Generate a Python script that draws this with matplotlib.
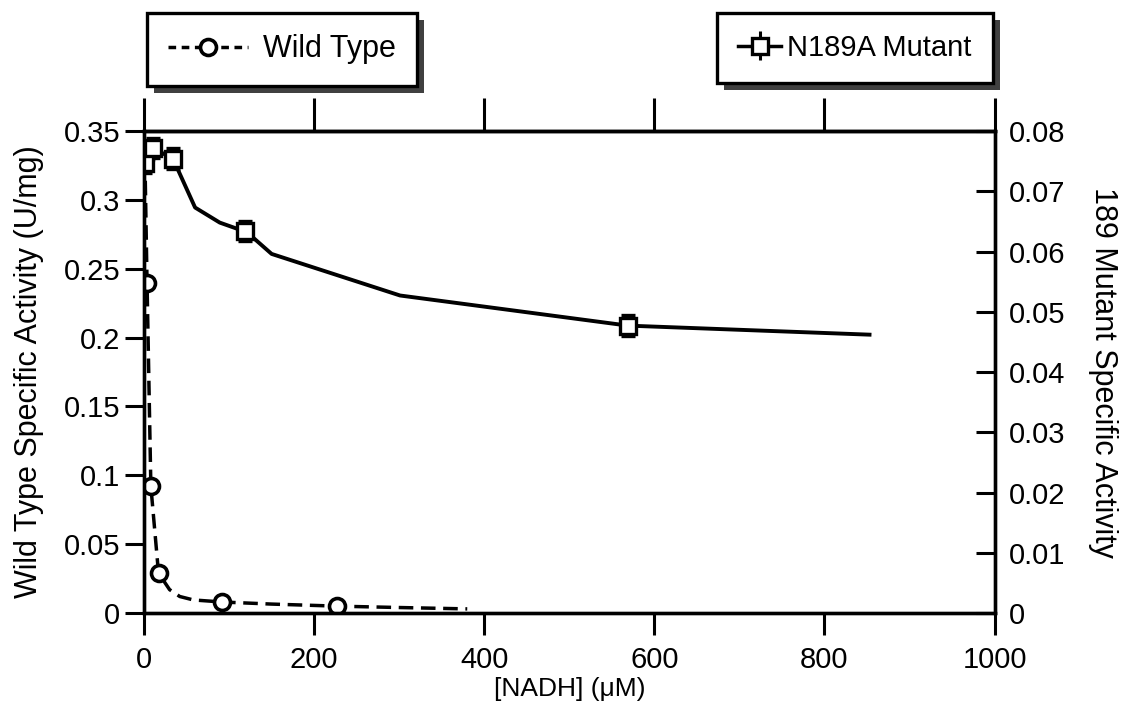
import numpy as np
import matplotlib.pyplot as plt
import matplotlib.patheffects as pe

plt.rcParams['font.family'] = ['Liberation Sans', 'DejaVu Sans']

# ── Data ──────────────────────────────────────────────────
# Wild type (left axis, U/mg)
wt_x = [1, 3.5, 8, 17, 92, 227]
wt_y = [0.33, 0.240, 0.092, 0.029, 0.008, 0.005]
wt_fit_x = [1, 3.5, 8, 17, 30, 42, 58, 92, 150, 227, 300, 380]
wt_fit_y = [0.33, 0.240, 0.092, 0.029, 0.017, 0.012, 0.0095, 0.008, 0.0065, 0.005, 0.004, 0.003]

# N189A mutant (right axis)
mut_x = [1.5, 10, 34, 119, 569]
mut_y = [0.0747, 0.0772, 0.0754, 0.0634, 0.0477]
mut_err = [0.0017, 0.0017, 0.0017, 0.0017, 0.0017]
mut_fit_x = [1.5, 10, 34, 60, 89, 121, 150, 301, 569, 853]
mut_fit_y = [0.0747, 0.0772, 0.0754, 0.0673, 0.0648, 0.0632, 0.0596, 0.0527, 0.0477, 0.0462]

x_ticks = [0, 200, 400, 600, 800, 1000]
left_ticks = [0, 0.05, 0.1, 0.15, 0.2, 0.25, 0.3, 0.35]
left_labels = ['0', '0.05', '0.1', '0.15', '0.2', '0.25', '0.3', '0.35']
right_ticks = [0, 0.01, 0.02, 0.03, 0.04, 0.05, 0.06, 0.07, 0.08]
right_labels = ['0', '0.01', '0.02', '0.03', '0.04', '0.05', '0.06', '0.07', '0.08']

FS = 21
LW = 2.5

# ── Figure ────────────────────────────────────────────────
fig = plt.figure(figsize=(11.37, 7.12), dpi=100)
ax = fig.add_axes([0.1267, 0.139, 0.748, 0.677])
ax2 = ax.twinx()

# wild type: dashed fit + open circles
ax.plot(wt_fit_x, wt_fit_y, color='black', lw=LW, ls=(0, (4.2, 2.2)))
ax.plot(wt_x, wt_y, ls='none', marker='o', ms=11.5, mfc='white', mec='black', mew=2.6)
wt_handle, = ax.plot([], [], color='black', lw=LW, ls=(0, (2.2, 1.6)),
                     marker='o', ms=11.5, mfc='white', mec='black', mew=2.6)

# mutant: solid fit + open squares with error bars
ax2.plot(mut_fit_x, mut_fit_y, color='black', lw=2.8)
ax2.errorbar(mut_x, mut_y, yerr=mut_err, ls='none', marker='s', ms=11.5,
             mfc='white', mec='black', mew=2.4, ecolor='black', elinewidth=2.2,
             capsize=5, capthick=2.2)
mut_handle = ax2.errorbar([], [], yerr=[], color='black', lw=LW, marker='s', ms=11.5,
                          mfc='white', mec='black', mew=2.4, ecolor='black',
                          elinewidth=2.2, capsize=5, capthick=2.2)

# ── Axes styling ──────────────────────────────────────────
ax.set_xlim(0, 1000)
ax.set_ylim(0, 0.35)
ax2.set_ylim(0, 0.08)

ax.set_xticks(x_ticks)
ax.set_xticklabels([str(t) for t in x_ticks], fontsize=FS)
ax.set_yticks(left_ticks)
ax.set_yticklabels(left_labels, fontsize=FS)
ax2.set_yticks(right_ticks)
ax2.set_yticklabels(right_labels, fontsize=FS)

ax.tick_params(axis='x', direction='out', length=16, width=2.2, pad=8)
ax.tick_params(axis='y', direction='out', length=14, width=2.2, pad=3)
ax2.tick_params(axis='y', direction='in', length=14, width=2.2, pad=10)

top = ax.secondary_xaxis('top')
top.set_xticks(x_ticks)
top.set_xticklabels([])
top.tick_params(direction='out', length=24, width=2.2)

for a in (ax, ax2):
    for s in a.spines.values():
        s.set_linewidth(2.4)
top.spines['top'].set_linewidth(2.4)

ax.set_xlabel('[NADH] (\u03bcM)', fontsize=19, labelpad=2)
ax.set_ylabel('Wild Type Specific Activity (U/mg)', fontsize=22, labelpad=14)
ax2.set_ylabel('189 Mutant Specific Activity', fontsize=22, rotation=270, labelpad=38)

# ── Legends: two separate shadowed boxes above the plot ───
shadow = [pe.SimplePatchShadow(offset=(5, -5), shadow_rgbFace='0.25', alpha=1),
          pe.Normal()]

leg1 = fig.legend([wt_handle], ['Wild Type'], loc='upper left',
                  bbox_to_anchor=(0.129, 0.982), borderaxespad=0, fontsize=22,
                  fancybox=False, handlelength=2.6, borderpad=0.7, handletextpad=0.5)
leg2 = fig.legend([mut_handle], ['N189A Mutant'], loc='upper right',
                  bbox_to_anchor=(0.873, 0.982), borderaxespad=0, fontsize=21,
                  fancybox=False, handlelength=1.5, borderpad=0.72, handletextpad=0.2)
for lg in (leg1, leg2):
    fr = lg.get_frame()
    fr.set_edgecolor('black')
    fr.set_linewidth(2.4)
    fr.set_alpha(1)
    fr.set_path_effects(shadow)

fig.savefig('out.png', dpi=100)
